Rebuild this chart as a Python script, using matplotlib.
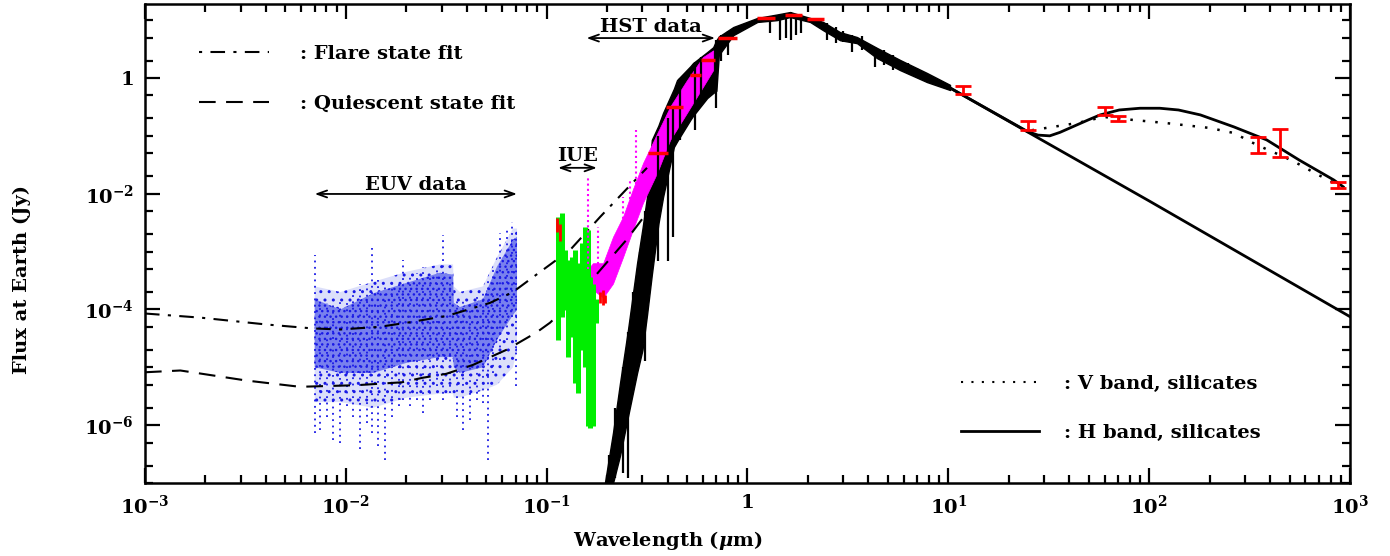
import numpy as np
import matplotlib.pyplot as plt
from matplotlib.ticker import LogLocator, FixedLocator, FuncFormatter, NullFormatter
from matplotlib.lines import Line2D

plt.rcParams['font.family'] = 'DejaVu Serif'
plt.rcParams['font.weight'] = 'bold'
plt.rcParams['axes.labelweight'] = 'bold'
plt.rcParams['mathtext.fontset'] = 'custom'
plt.rcParams['mathtext.rm'] = 'DejaVu Serif:bold'
plt.rcParams['mathtext.bf'] = 'DejaVu Serif:bold'
plt.rcParams['mathtext.it'] = 'DejaVu Serif:bold:italic'
plt.rcParams['hatch.linewidth'] = 1.0

# --- model fits (flare / quiescent), wavelength in micron, flux in Jy
flare_wl = [1e-3, 1.9e-3, 4e-3, 6.8e-3, 9.4e-3, 0.0147, 0.0202, 0.0316, 0.0358,
            0.0523, 0.068, 0.089, 0.131, 0.185, 0.25, 0.316]
flare_f = [8.5e-5, 7.2e-5, 5.5e-5, 4.7e-5, 4.5e-5, 5e-5, 5.9e-5, 7.7e-5, 8.7e-5,
           1.3e-4, 2.0e-4, 4e-4, 1.07e-3, 4e-3, 1.2e-2, 2.8e-2]
quies_wl = [1e-3, 1.5e-3, 3.2e-3, 5.9e-3, 0.0113, 0.019, 0.0242, 0.0316, 0.043,
            0.063, 0.089, 0.104, 0.142, 0.185, 0.25, 0.316, 0.34]
quies_f = [8.2e-6, 8.8e-6, 5.9e-6, 4.6e-6, 4.9e-6, 5.5e-6, 6.6e-6, 7.7e-6, 1.1e-5,
           2e-5, 4e-5, 5.9e-5, 1.65e-4, 4.8e-4, 1.6e-3, 4.7e-3, 8e-3]

# --- EUV data: dense core / halo envelopes and dotted columns
euv_wl = [7.0e-3, 9.4e-3, 0.0137, 0.0202, 0.0294, 0.0342, 0.0345, 0.037, 0.0482,
          0.0566, 0.068, 0.0712]
euv_core_hi = [1.5e-4, 1.0e-4, 1.9e-4, 2.9e-4, 4.3e-4, 4.0e-4, 1.3e-4, 1.1e-4, 1.5e-4,
               5.5e-4, 1.6e-3, 1.8e-3]
euv_core_lo = [1.0e-5, 8e-6, 8e-6, 1.2e-5, 1.5e-5, 1.5e-5, 1e-5, 8e-6, 1e-5,
               3e-5, 8e-5, 1e-4]
euv_halo_hi = [2.5e-4, 2e-4, 3e-4, 4.5e-4, 6e-4, 6e-4, 2.5e-4, 2e-4, 2.5e-4, 8e-4, 2.5e-3, 2.5e-3]
euv_halo_lo = [2.5e-6, 2.5e-6, 2e-6, 3e-6, 3.5e-6, 3.5e-6, 3e-6, 3e-6, 4e-6, 5e-6, 1e-5, 2e-5]
euv_col_wl = [7.03e-3, 7.44e-3, 8.03e-3, 8.67e-3, 9.35e-3, 1.01e-2, 1.09e-2, 1.18e-2,
              1.27e-2, 1.35e-2, 1.45e-2, 1.57e-2, 1.69e-2, 1.83e-2, 1.93e-2, 2.09e-2,
              2.25e-2, 2.43e-2, 2.62e-2, 2.84e-2, 3.06e-2, 3.30e-2, 3.56e-2, 3.85e-2,
              4.15e-2, 4.49e-2, 4.84e-2, 5.13e-2, 5.43e-2, 5.86e-2, 6.32e-2, 6.70e-2, 7.04e-2]
euv_col_hi = [8.8e-4, 1.5e-4, 1.3e-4, 1.5e-4, 1.5e-4, 1.3e-4, 1.9e-4, 2.8e-4, 2.5e-4,
              1.15e-3, 3.2e-4, 2.8e-4, 2.8e-4, 2.8e-4, 7.2e-4, 3.7e-4, 4.2e-4, 5.5e-4,
              3.7e-4, 5.5e-4, 1.9e-3, 3.2e-4, 1.5e-4, 1.5e-4, 1.3e-4, 1.7e-4, 2.2e-4,
              3.2e-4, 5.5e-4, 2.1e-3, 2.4e-3, 3.3e-3, 2.1e-3]
euv_col_lo = [7.3e-7, 8.3e-7, 1.4e-6, 5.6e-7, 4.9e-7, 2.1e-6, 1.4e-6, 3.8e-7, 1.08e-6,
              7.3e-7, 4.3e-7, 2.5e-7, 1.4e-6, 2.1e-6, 2.75e-6, 2.1e-6, 2.75e-6, 1.6e-6,
              2.75e-6, 4.7e-6, 2.75e-6, 3.6e-6, 1.4e-6, 8.3e-7, 1.24e-6, 2.75e-6, 2.4e-6,
              2.5e-7, 7.9e-6, 1.35e-5, 3.0e-5, 7.5e-5, 4.7e-6]

# --- IUE data (green columns)
iue_wl = [0.114, 0.119, 0.124, 0.128, 0.133, 0.138, 0.144, 0.150, 0.155, 0.160,
          0.164, 0.171, 0.176]
iue_hi = [4.0e-3, 4.6e-3, 1.07e-3, 7.2e-4, 8.2e-4, 1.07e-3, 6.3e-4, 1.4e-3, 2.7e-3,
          2.4e-3, 3.7e-4, 2.8e-4, 1.5e-4]
iue_lo = [3.0e-5, 7.5e-5, 9.8e-5, 1.5e-5, 3.4e-5, 5.3e-6, 3.6e-6, 2.0e-5, 1.03e-5,
          9.5e-7, 8.9e-7, 9.5e-7, 5.8e-5]

# --- HST data (magenta band + emission spikes)
hst_wl = [0.161, 0.170, 0.191, 0.214, 0.240, 0.269, 0.302, 0.355, 0.412, 0.50, 0.60, 0.675]
hst_hi = [5e-4, 6.3e-4, 6.3e-4, 1.8e-3, 4e-3, 1.2e-2, 3.4e-2, 0.11, 0.32, 0.92, 2.3, 3.0]
hst_lo = [3e-4, 2.2e-4, 1.6e-4, 2.8e-4, 8e-4, 2.4e-3, 7e-3, 2.3e-2, 8.5e-2, 0.25, 0.7, 1.37]
hst_spk_wl = [0.161, 0.18, 0.24, 0.26, 0.28]
hst_spk_top = [2e-2, 2.7e-3, 8.8e-3, 1.7e-2, 0.127]
hst_spk_base = [5e-4, 6e-4, 3e-3, 8e-3, 1.5e-2]

# red bits on the UV spectra
red_wl = [0.113, 0.116, 0.185, 0.19, 0.195]
red_top = [3.8e-3, 3e-3, 2e-4, 2.2e-4, 1.8e-4]
red_bot = [2.2e-3, 1.5e-3, 1.3e-4, 1.2e-4, 1.3e-4]

# --- photospheric spectrum (black band envelope + absorption lines)
star_wl = [0.195, 0.214, 0.232, 0.254, 0.282, 0.30, 0.316, 0.334, 0.36, 0.38, 0.43,
           0.446, 0.52, 0.535, 0.63, 0.675, 0.70, 0.72, 0.85, 1.12, 1.4, 1.63, 2.05,
           2.38, 2.89, 3.51, 4.42, 5.75, 7.83, 10.2]
star_hi = [1e-7, 7.4e-7, 5.4e-6, 4.4e-5, 6.3e-4, 2.5e-3, 8.8e-3, 8.5e-2, 0.15, 0.25,
           0.65, 0.92, 1.6, 1.8, 2.8, 3.4, 4.5, 5.2, 7.6, 10.9, 12.5, 13.8, 10.9, 9.3,
           6.2, 5.1, 3.3, 2.05, 1.22, 0.76]
star_lo = [1e-7, 1e-7, 3e-7, 1.4e-6, 8e-6, 2e-5, 8e-5, 4e-4, 3e-3, 8.8e-3, 6.4e-2,
           8e-2, 0.19, 0.22, 0.45, 0.55, 0.6, 2.5, 5.5, 9.3, 10, 11.3, 9.3, 6.7, 4.5,
           4.0, 2.2, 1.37, 0.85, 0.62]
line_wl = [0.205, 0.22, 0.24, 0.254, 0.27, 0.29, 0.31, 0.36, 0.40, 0.425, 0.46, 0.55,
           0.59, 0.70, 0.74, 0.80, 1.3, 1.45, 1.55, 1.65, 1.75, 1.85, 2.5, 2.75, 3.0,
           3.3, 3.7, 4.3, 4.8, 5.3, 6.3, 7.0]
line_top = [3e-7, 2e-6, 1e-5, 4e-5, 2e-4, 1e-3, 5e-3, 0.1, 0.2, 0.3, 1.0, 1.9,
            2.3, 4.5, 5.5, 6.5, 11.5, 12.5, 13, 13.8, 13, 12, 9, 7.5, 6.5,
            5.5, 5.3, 3.5, 3.0, 2.5, 1.8, 1.5]
line_bot = [1e-7, 1.2e-7, 1.5e-7, 1.2e-7, 4e-6, 1.5e-5, 1.3e-5, 7e-4, 7e-4, 1.8e-3, 0.085, 0.127,
            0.37, 0.3, 2.0, 2.5, 6, 4.5, 5, 4.5, 5.5, 6, 4.5, 4.0, 4.2,
            2.8, 3.0, 1.55, 1.7, 1.4, 1.27, 1.0]
rj_wl = [10, 100, 1000]
rj_f = [0.70, 7.5e-3, 7.5e-5]

# --- dust models
hband_wl = [10, 25, 28, 32, 36, 41.5, 50, 57, 71, 90, 113, 140, 180, 264, 385, 560, 830, 925]
hband_f = [0.70, 0.117, 0.103, 0.100, 0.115, 0.143, 0.19, 0.23, 0.28, 0.30, 0.30, 0.28,
           0.23, 0.143, 0.085, 0.038, 0.0173, 0.0132]
vband_wl = [26, 32, 44, 55, 61, 70, 81, 120, 200, 264, 330, 400, 460, 560, 680, 870]
vband_f = [0.125, 0.14, 0.167, 0.2, 0.21, 0.2, 0.19, 0.167, 0.137, 0.112, 0.075, 0.055,
           0.045, 0.032, 0.022, 0.0142]

# --- photometry
opt_wl = [0.359, 0.434, 0.56, 0.64, 0.79, 1.25, 1.69, 2.17]
opt_f = [0.051, 0.32, 1.13, 2.05, 4.9, 10.9, 12.2, 10.4]
opt_lo = [0.318, 0.394, 0.515, 0.59, 0.71, 1.12, 1.53, 1.97]
opt_hi = [0.40, 0.478, 0.59, 0.69, 0.89, 1.37, 1.86, 2.41]
ir_wl = [11.9, 25, 60, 70, 347, 450, 870]
ir_f = [0.62, 0.150, 0.27, 0.20, 0.070, 0.075, 0.014]
ir_lo = [0.52, 0.127, 0.23, 0.18, 0.051, 0.043, 0.0126]
ir_hi = [0.74, 0.18, 0.315, 0.22, 0.096, 0.132, 0.016]

# annotation ranges: (start, end, arrow flux, label baseline flux)
euv_note = (7.0e-3, 0.0712, 9.9e-3, 1.16e-2)
iue_note = (0.114, 0.178, 2.8e-2, 3.7e-2)
hst_note = (0.158, 0.69, 4.9, 6.2)

# labelled ticks
xticks = [1e-3, 1e-2, 1e-1, 1, 1e1, 1e2, 1e3]
yticks = [1e-6, 1e-4, 1e-2, 1]

fig = plt.figure(figsize=(13.9, 5.56), dpi=100)
ax = fig.add_axes([0.1043, 0.1313, 0.8669, 0.8615])
ax.set_xscale('log')
ax.set_yscale('log')

blue = '#1a1ae6'
# EUV
ax.fill_between(euv_wl, euv_halo_lo, euv_halo_hi, facecolor='#dcdffa', edgecolor=blue,
                hatch='..', linewidth=0)
ax.fill_between(euv_wl, euv_core_lo, euv_core_hi, facecolor='#7880ee',
                edgecolor=blue, hatch='...', linewidth=0)
ax.vlines(euv_col_wl, euv_col_lo, euv_col_hi, colors=blue, linestyles=(0, (1, 2.5)), lw=1.3)

# fits
ax.plot(flare_wl, flare_f, color='k', lw=1.5, ls=(0, (7, 4, 1.5, 4)))
ax.plot(quies_wl, quies_f, color='k', lw=1.5, ls=(0, (8, 5)))

# IUE
ax.vlines(iue_wl, iue_lo, iue_hi, colors='#00ee00', lw=3.6)

# stellar spectrum
ax.fill_between(star_wl, star_lo, star_hi, color='k', lw=1)
ax.vlines(line_wl, line_bot, line_top, colors='k', lw=1.6)
ax.plot(rj_wl, rj_f, color='k', lw=2)

# HST
ax.fill_between(hst_wl, hst_lo, hst_hi, color='#ff00ff', lw=0.5)
ax.vlines(hst_spk_wl, hst_spk_base, hst_spk_top, colors='#ff00ff',
          linestyles=(0, (1, 1.5)), lw=1.5)
ax.vlines(red_wl, red_bot, red_top, colors='red', lw=2)

# dust models
ax.plot(hband_wl, hband_f, color='k', lw=2)
ax.plot(vband_wl, vband_f, color='k', lw=1.8, ls=(0, (1, 4)))

# photometry
ax.hlines(opt_f, opt_lo, opt_hi, colors='red', lw=2.5)
ax.errorbar(ir_wl, ir_f, yerr=[np.subtract(ir_f, ir_lo), np.subtract(ir_hi, ir_f)],
            fmt='none', ecolor='red', elinewidth=2, capsize=6, capthick=2)

# range annotations
arrow = dict(arrowstyle='<->, head_length=0.7, head_width=0.25', lw=1.3, color='k',
             shrinkA=0, shrinkB=0)
for (x0, x1, ya, yt), name in [(euv_note, 'EUV data'), (iue_note, 'IUE'),
                               (hst_note, 'HST data')]:
    ax.annotate('', xy=(x0, ya), xytext=(x1, ya), arrowprops=arrow)
    ax.text(np.sqrt(x0 * x1), yt, name, ha='center', va='baseline', fontsize=14)

ax.set_xlim(1e-3, 1e3)
ax.set_ylim(1e-7, 19)

# legends
h1 = [Line2D([], [], color='k', lw=1.5, ls=(0, (1.5, 4, 7, 4))),
      Line2D([], [], color='k', lw=1.5, ls=(0, (8, 5)))]
leg1 = ax.legend(h1, [': Flare state fit', ': Quiescent state fit'], loc='upper left',
                 bbox_to_anchor=(0.045, 0.914), frameon=False, fontsize=14,
                 handlelength=3.6, handletextpad=1.6, labelspacing=1.65,
                 borderpad=0, borderaxespad=0)
ax.add_artist(leg1)
h2 = [Line2D([], [], color='k', lw=1.5, ls=(0, (1, 4))),
      Line2D([], [], color='k', lw=2)]
ax.legend(h2, [': V band, silicates', ': H band, silicates'], loc='lower left',
          bbox_to_anchor=(0.677, 0.085), frameon=False, fontsize=14,
          handlelength=4.0, handletextpad=1.3, labelspacing=1.6,
          borderpad=0, borderaxespad=0)

# ticks
def logfmt(v, pos):
    e = int(round(np.log10(v)))
    return '1' if e == 0 else r'$10^{%d}$' % e

ax.xaxis.set_major_locator(FixedLocator(xticks))
ax.xaxis.set_minor_locator(LogLocator(base=10, subs=np.arange(2, 10), numticks=20))
ax.yaxis.set_major_locator(FixedLocator(yticks))
ax.yaxis.set_minor_locator(LogLocator(base=10, subs=(1, 2, 5), numticks=20))
ax.xaxis.set_major_formatter(FuncFormatter(logfmt))
ax.yaxis.set_major_formatter(FuncFormatter(logfmt))
ax.xaxis.set_minor_formatter(NullFormatter())
ax.yaxis.set_minor_formatter(NullFormatter())
ax.tick_params(which='both', direction='in', top=True, right=True, width=1.6,
               labelsize=14)
ax.tick_params(which='major', length=11, pad=8)
ax.tick_params(which='minor', length=5.5)
for s in ax.spines.values():
    s.set_linewidth(1.8)

ax.set_xlabel(r'Wavelength ($\mu$m)', fontsize=14)
ax.xaxis.set_label_coords(0.434, -0.095)
ax.set_ylabel('Flux at Earth (Jy)', fontsize=14)
ax.yaxis.set_label_coords(-0.095, 0.424)

fig.savefig('out.png', dpi=100)
